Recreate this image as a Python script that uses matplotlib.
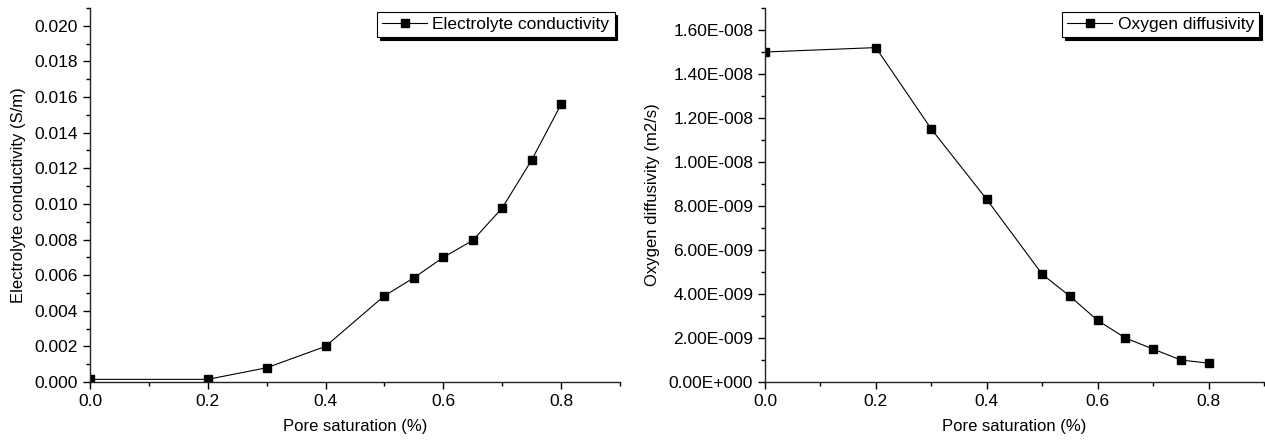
import matplotlib
matplotlib.use('Agg')
from matplotlib import pyplot as plt
from matplotlib.ticker import MultipleLocator, FormatStrFormatter, FuncFormatter

plt.rcParams['font.family'] = ['Liberation Sans', 'DejaVu Sans']

# pore saturation values shared by both panels
saturation = [0.0, 0.2, 0.3, 0.4, 0.5, 0.55, 0.6, 0.65, 0.7, 0.75, 0.8]
conductivity = [0.00015, 0.00015, 0.0008, 0.002, 0.00484, 0.00585, 0.0070,
                0.00795, 0.00977, 0.01246, 0.01559]
diffusivity = [1.50e-8, 1.52e-8, 1.15e-8, 8.3e-9, 4.9e-9, 3.9e-9, 2.8e-9,
               2.0e-9, 1.5e-9, 1.0e-9, 0.86e-9]


def sci_fmt(v, pos):
    if v == 0:
        return '0.00E+000'
    s = '%.2E' % v
    mant, exp = s.split('E')
    sign = exp[0]
    return '%sE%s%03d' % (mant, sign, abs(int(exp)))


def style_axes(ax):
    for side in ['top', 'right']:
        ax.spines[side].set_visible(False)
    for side in ['left', 'bottom']:
        ax.spines[side].set_linewidth(1.0)
        ax.spines[side].set_color('#222222')
    ax.tick_params(which='major', direction='out', length=5, width=1, labelsize=12.5)
    ax.tick_params(which='minor', direction='out', length=3, width=1)
    ax.set_xlim(0, 0.9)
    ax.set_xticks([0.0, 0.2, 0.4, 0.6, 0.8])
    ax.xaxis.set_minor_locator(MultipleLocator(0.1))
    ax.xaxis.set_major_formatter(FormatStrFormatter('%.1f'))
    ax.set_xlabel('Pore saturation (%)', fontsize=12, labelpad=7)


fig = plt.figure(figsize=(12.65, 4.44), dpi=100)
ax1 = fig.add_axes([0.0711, 0.1396, 0.419, 0.8424])
ax2 = fig.add_axes([0.6047, 0.1396, 0.3945, 0.8424])

ax1.plot(saturation, conductivity, color='k', lw=0.8, marker='s', ms=6,
         label='Electrolyte conductivity')
style_axes(ax1)
ax1.set_ylim(0, 0.021)
ax1.set_yticks([i * 0.002 for i in range(11)])
ax1.yaxis.set_minor_locator(MultipleLocator(0.001))
ax1.yaxis.set_major_formatter(FormatStrFormatter('%.3f'))
ax1.set_ylabel('Electrolyte conductivity (S/m)', fontsize=12, labelpad=6)

ax2.plot(saturation, diffusivity, color='k', lw=0.8, marker='s', ms=6,
         label='Oxygen diffusivity')
style_axes(ax2)
ax2.set_ylim(0, 1.7e-8)
ax2.set_yticks([i * 2e-9 for i in range(9)])
ax2.yaxis.set_minor_locator(MultipleLocator(1e-9))
ax2.yaxis.set_major_formatter(FuncFormatter(sci_fmt))
ax2.set_ylabel('Oxygen diffusivity (m2/s)', fontsize=12, labelpad=6)

for ax in [ax1, ax2]:
    leg = ax.legend(loc='upper right', bbox_to_anchor=(0.99, 0.99),
                    fontsize=12.5, fancybox=False, shadow={'color': 'black', 'alpha': 1},
                    borderpad=0.3, handlelength=2.6, handletextpad=0.3,
                    borderaxespad=0.0, framealpha=1)
    leg.get_frame().set_edgecolor('black')
    leg.get_frame().set_linewidth(0.8)

fig.savefig('out.png', dpi=100)
